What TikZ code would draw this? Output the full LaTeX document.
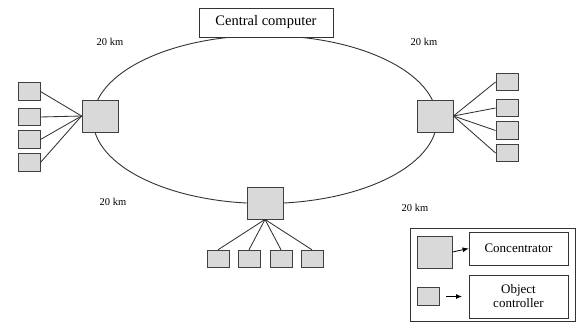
\documentclass[tikz,border=0pt]{standalone}
\usepackage{fontspec}
\setmainfont{Liberation Serif}
\usetikzlibrary{arrows.meta}
\begin{document}
\begin{tikzpicture}[x=1pt,y=-1pt,
  conc/.style={draw=black!75,fill=black!15,line width=0.9pt,minimum width=36pt,minimum height=32pt,inner sep=0pt},
  objc/.style={draw=black!75,fill=black!15,line width=0.9pt,minimum width=22pt,minimum height=17.5pt,inner sep=0pt},
  link/.style={draw=black!80,line width=0.85pt},
  ring/.style={draw=black!80,line width=0.9pt},
  dist/.style={font=\fontsize{10.5}{12}\selectfont,inner sep=0pt},
  textbox/.style={draw=black!80,fill=white,line width=0.8pt,inner sep=0pt,align=center},
  legarrow/.style={-{Latex[length=6pt,width=5pt]},line width=0.8pt}]
\useasboundingbox (0,0) rectangle (578,323);
% ring
\draw[ring] (265,119.5) ellipse [x radius=172, y radius=84];
% central computer
\node[textbox,minimum width=134pt,minimum height=29pt,font=\fontsize{14.5}{16}\selectfont] (cc) at (266,22.5) {Central computer};
% concentrators
\node[conc] (cl) at (100,116) {};
\node[conc] (cr) at (435,116) {};
\node[conc] (cb) at (265,203) {};
% left object controllers
\node[objc] (l1) at (29,91.5) {};
\node[objc] (l2) at (29,117) {};
\node[objc] (l3) at (29,139.5) {};
\node[objc] (l4) at (29,162.5) {};
% right object controllers
\node[objc] (r1) at (507,82) {};
\node[objc] (r2) at (507,108) {};
\node[objc] (r3) at (507,130.5) {};
\node[objc] (r4) at (507,153) {};
% bottom object controllers
\node[objc] (b1) at (218,259) {};
\node[objc] (b2) at (249,259) {};
\node[objc] (b3) at (281,259) {};
\node[objc] (b4) at (312,259) {};
% links
\foreach \n in {l1,l2,l3,l4} \draw[link] (cl.west) -- (\n.east);
\foreach \n in {r1,r2,r3,r4} \draw[link] (cr.east) -- (\n.west);
\foreach \n in {b1,b2,b3,b4} \draw[link] (cb.south) -- (\n.north);
% distance labels
\node[dist] (d1) at (110,42) {20 km};
\node[dist] (d2) at (424,42) {20 km};
\node[dist] (d3) at (113,202) {20 km};
\node[dist] (d4) at (415,208) {20 km};
% legend
\node[draw=black!80,line width=0.8pt,minimum width=165pt,minimum height=93.5pt,inner sep=0pt] (leg) at (492.5,274.75) {};
\node[conc,minimum width=35pt,minimum height=32pt] (lc) at (434.5,252) {};
\node[objc] (lo) at (428,296.5) {};
\node[textbox,minimum width=99pt,minimum height=33pt,font=\fontsize{13}{15}\selectfont] (tc) at (518.5,248.5) {Concentrator};
\node[textbox,minimum width=99pt,minimum height=43pt,font=\fontsize{13}{14}\selectfont] (to) at (518.5,296.5) {Object\\controller};
\draw[legarrow] (lc.east) -- (tc.west);
\coordinate (as) at (446,296.5);
\coordinate (ae) at (462,296.5);
\draw[legarrow] (as) -- (ae);
\end{tikzpicture}
\end{document}
